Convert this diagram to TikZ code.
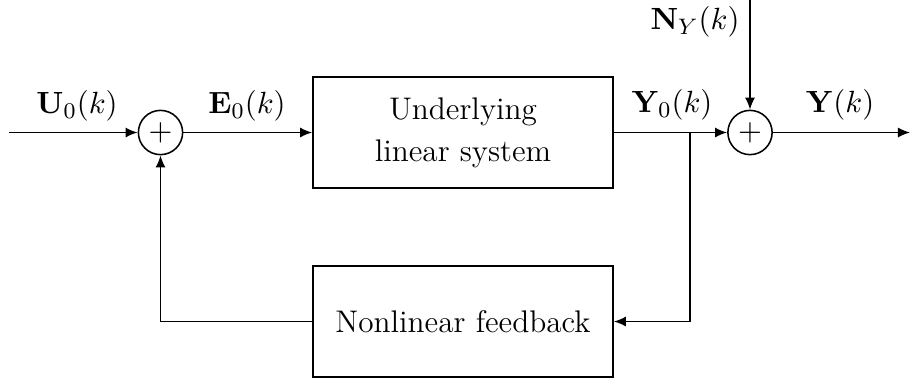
\documentclass[tikz,border=0pt]{standalone}
\usepackage{amsfonts}
\usepackage{amssymb}
\usetikzlibrary{positioning,arrows.meta}

\begin{document}
\begin{tikzpicture}[x=0.01255cm,y=-0.01255cm,line width=0.55pt,
  font=\fontsize{11.16}{15}\selectfont,
  >={Latex[length=4.3pt,width=3.6pt]},
  blockbox/.style={draw,minimum width=3.765cm,minimum height=1.39cm,align=center,inner sep=0pt},
  sumnode/.style={draw,circle,minimum size=0.555cm,inner sep=0pt}]
\useasboundingbox (0,0) rectangle (910,382);

\node [sumnode] (sum1) at (160.5,132.5) {$+$};
\node [blockbox] (sys) at (463,132.5) {Underlying\\linear system};
\node [sumnode] (sum2) at (750,132.5) {$+$};
\node [blockbox] (fb) at (463,321.5) {Nonlinear feedback};

\coordinate (in) at (9,132.5);
\coordinate (split) at (690,132.5);
\coordinate (ntop) at (750,0);
\coordinate (out) at (910,132.5);

\draw [->](in)--(sum1.west);
\draw [->](sum1.east)--(sys.west);
\draw (sys.east)--(split);
\draw [->](split)--(sum2.west);
\draw [->](ntop)--(sum2.north);
\draw [->](sum2.east)--(out);

\draw [->](split)|-(fb.east);
\draw [->](fb.west)-|(sum1.south);

\node (lu) at (77,106) {$\mathbf{U}_0(k)$};
\node (le) at (247,106) {$\mathbf{E}_0(k)$};
\node (ly) at (672,105) {$\mathbf{Y}_0(k)$};
\node (lo) at (840,105) {$\mathbf{Y}(k)$};
\node (ln) at (695,22) {$\mathbf{N}_Y(k)$};

\end{tikzpicture}
\end{document}
